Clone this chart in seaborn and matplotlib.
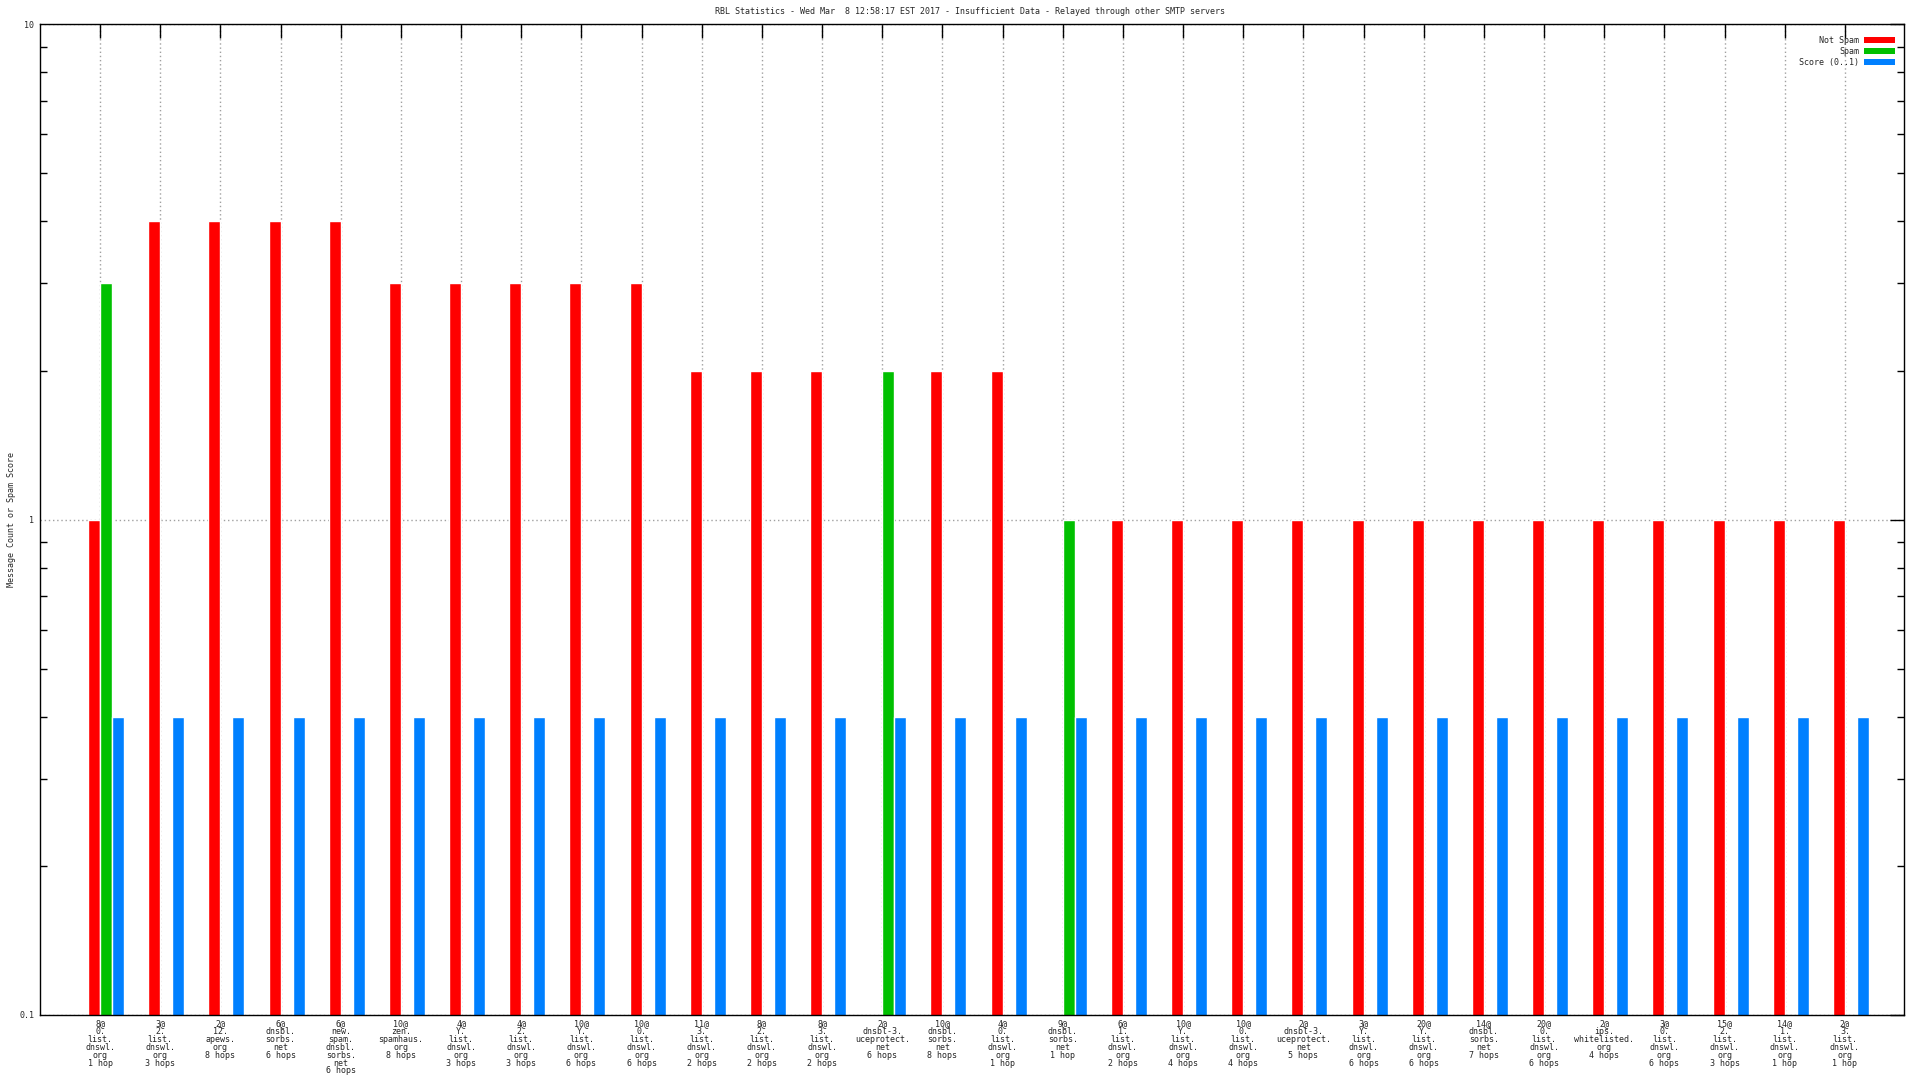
import matplotlib
matplotlib.use('Agg')
import matplotlib.pyplot as plt
import seaborn as sns
import pandas as pd
import numpy as np
from matplotlib.patches import Patch
from matplotlib.ticker import LogLocator, FixedLocator, FixedFormatter, NullFormatter

# data

labels = [
    "8@\n0.\nlist.\ndnswl.\norg\n1 hop",
    "3@\n2.\nlist.\ndnswl.\norg\n3 hops",
    "2@\n12.\napews.\norg\n8 hops",
    "6@\ndnsbl.\nsorbs.\nnet\n6 hops",
    "6@\nnew.\nspam.\ndnsbl.\nsorbs.\nnet\n6 hops",
    "10@\nzen.\nspamhaus.\norg\n8 hops",
    "4@\nY.\nlist.\ndnswl.\norg\n3 hops",
    "4@\n2.\nlist.\ndnswl.\norg\n3 hops",
    "10@\nY.\nlist.\ndnswl.\norg\n6 hops",
    "10@\n0.\nlist.\ndnswl.\norg\n6 hops",
    "11@\n3.\nlist.\ndnswl.\norg\n2 hops",
    "8@\n2.\nlist.\ndnswl.\norg\n2 hops",
    "8@\n3.\nlist.\ndnswl.\norg\n2 hops",
    "2@\ndnsbl-3.\nuceprotect.\nnet\n6 hops",
    "10@\ndnsbl.\nsorbs.\nnet\n8 hops",
    "4@\n0.\nlist.\ndnswl.\norg\n1 hop",
    "9@\ndnsbl.\nsorbs.\nnet\n1 hop",
    "6@\n1.\nlist.\ndnswl.\norg\n2 hops",
    "10@\nY.\nlist.\ndnswl.\norg\n4 hops",
    "10@\n0.\nlist.\ndnswl.\norg\n4 hops",
    "2@\ndnsbl-3.\nuceprotect.\nnet\n5 hops",
    "3@\nY.\nlist.\ndnswl.\norg\n6 hops",
    "20@\nY.\nlist.\ndnswl.\norg\n6 hops",
    "14@\ndnsbl.\nsorbs.\nnet\n7 hops",
    "20@\n0.\nlist.\ndnswl.\norg\n6 hops",
    "2@\nips.\nwhitelisted.\norg\n4 hops",
    "3@\n0.\nlist.\ndnswl.\norg\n6 hops",
    "15@\n2.\nlist.\ndnswl.\norg\n3 hops",
    "14@\n1.\nlist.\ndnswl.\norg\n1 hop",
    "2@\n3.\nlist.\ndnswl.\norg\n1 hop",
]

not_spam = [1, 4, 4, 4, 4, 3, 3, 3, 3, 3,
            2, 2, 2, np.nan, 2, 2, np.nan, 1, 1, 1,
            1, 1, 1, 1, 1, 1, 1, 1, 1, 1]
spam = [3, np.nan, np.nan, np.nan, np.nan, np.nan, np.nan, np.nan, np.nan, np.nan,
        np.nan, np.nan, np.nan, 2, np.nan, np.nan, 1, np.nan, np.nan, np.nan,
        np.nan, np.nan, np.nan, np.nan, np.nan, np.nan, np.nan, np.nan, np.nan, np.nan]
score = [0.4, 0.4, 0.4, 0.4, 0.4, 0.4, 0.4, 0.4, 0.4, 0.4,
         0.4, 0.4, 0.4, 0.4, 0.4, 0.4, 0.4, 0.4, 0.4, 0.4,
         0.4, 0.4, 0.4, 0.4, 0.4, 0.4, 0.4, 0.4, 0.4, 0.4]

series_names = ["Not Spam", "Spam", "Score (0..1)"]
colors = ["#ff0000", "#00c000", "#0080ff"]

title = ("RBL Statistics - Wed Mar  8 12:58:17 EST 2017 - "
         "Insufficient Data - Relayed through other SMTP servers")

# long table for seaborn

rows = []
for i in range(len(labels)):
    rows.append([i, series_names[0], not_spam[i]])
    rows.append([i, series_names[1], spam[i]])
    rows.append([i, series_names[2], score[i]])
dat = pd.DataFrame(rows, columns=["idx", "series", "value"])

# plot

sns.set_style("white")
plt.rcParams['font.family'] = ['DejaVu Sans Mono']
fs = 6

fig = plt.figure(figsize=(19.2, 10.8), dpi=100)
ax = fig.add_axes([0.0208, 0.0602, 0.9708, 0.9173])

sns.barplot(dat, x="idx", y="value", hue="series", hue_order=series_names,
            palette=colors, width=0.6, errorbar=None, saturation=1,
            legend=False, ax=ax)

ax.set_yscale('log')
ax.set_ylim(0.1, 10)
ax.set_xlim(-1.1, 29.88)

# category ticks sit between the red and green bars
ax.xaxis.set_major_locator(FixedLocator(np.arange(len(labels)) - 0.1))
ax.xaxis.set_major_formatter(FixedFormatter(labels))
for t in ax.get_xticklabels():
    t.set_linespacing(0.84)
    t.set_fontsize(fs)

ax.yaxis.set_major_locator(FixedLocator([0.1, 1, 10]))
ax.yaxis.set_major_formatter(FixedFormatter(["0.1", "1", "10"]))
ax.yaxis.set_minor_locator(LogLocator(base=10, subs=np.arange(2, 10)))
ax.yaxis.set_minor_formatter(NullFormatter())

ax.tick_params(axis='both', which='major', direction='in', length=10, width=1,
               top=True, right=True, labelsize=fs, color='black')
ax.tick_params(axis='y', which='minor', direction='in', length=5, width=1,
               left=True, right=True, color='black')
ax.tick_params(axis='x', pad=3)
ax.tick_params(axis='y', pad=4)

ax.set_axisbelow(True)
ax.grid(False)
ax.xaxis.grid(True, which='major', linestyle=(0, (1, 2)), color='#a0a0a0', lw=1)
ax.yaxis.grid(True, which='major', linestyle=(0, (1, 2)), color='#a0a0a0', lw=1)

for s in ax.spines.values():
    s.set_visible(True)
    s.set_color('black')
    s.set_linewidth(1)

ax.set_xlabel(None)
ax.set_ylabel(None)

handles = [Patch(facecolor=c, edgecolor='none', label=n)
           for c, n in zip(colors, series_names)]
ax.legend(handles=handles, loc='upper right', frameon=False, markerfirst=False,
          fontsize=fs, handlelength=3.7, handleheight=0.78, labelspacing=0.24,
          handletextpad=0.6, borderaxespad=0, borderpad=0,
          bbox_to_anchor=(0.98698, 0.9669), bbox_transform=fig.transFigure)

fig.text(0.0036, 0.519, "Message Count or Spam Score", rotation=90,
         ha='left', va='center', fontsize=fs)
fig.text(0.505, 0.989, title, ha='center', va='center', fontsize=fs)

plt.savefig('out.png', dpi=100)
